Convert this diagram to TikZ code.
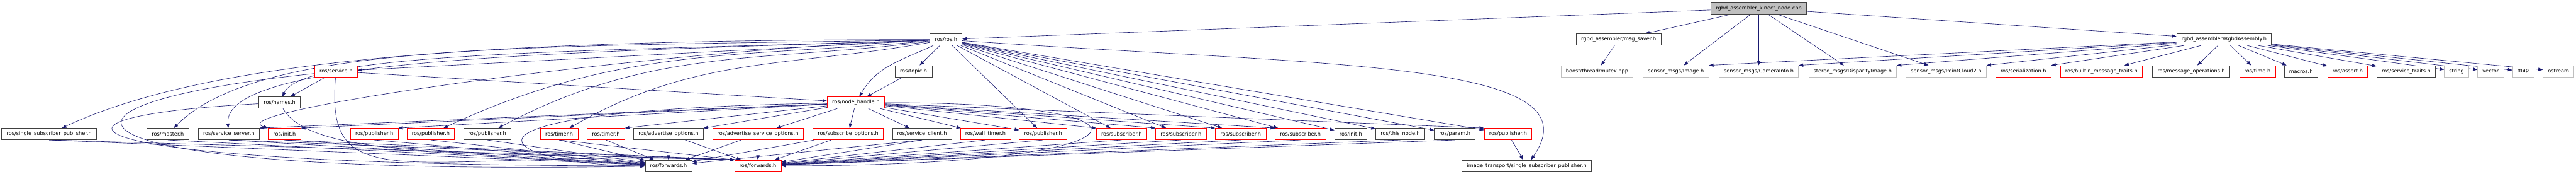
\documentclass[tikz,border=0pt]{standalone}
\usepackage{fontspec}
\setmainfont{DejaVu Sans}
\usetikzlibrary{arrows.meta, backgrounds}
\definecolor{cedge}{HTML}{191970}
\definecolor{cdark}{HTML}{404040}
\definecolor{cred}{HTML}{FF0000}
\definecolor{clight}{HTML}{BFBFBF}
\tikzset{
  every picture/.style={font=\fontsize{1.8}{2.16}\selectfont, line width=0.17pt},
  box/.style={draw=#1, fill=white, inner xsep=0.06cm, inner ysep=0pt, minimum height=0.14cm},
  box/.default=cdark,
  mainbox/.style={box=cdark, fill=clight},
  inc/.style={-{Triangle[length=0.055cm, width=0.04cm]}, draw=cedge, line width=0.14pt},
}

\begin{document}
\begin{tikzpicture}[x=0.5cm, y=0.5cm]
  \useasboundingbox (0,0) rectangle (63.39,-4.27);
  \node[mainbox] (kinect) at (43.28,-0.20) {rgbd\_assembler\_kinect\_node.cpp};
  \node[box] (ros)      at (23.28,-0.97) {ros/ros.h};
  \node[box] (saver)    at (39.83,-0.97) {rgbd\_assembler/msg\_saver.h};
  \node[box] (assembly) at (54.73,-0.97) {rgbd\_assembler/RgbdAssembly.h};
  \node[box=cred]   (service)    at (8.27,-1.75)  {ros/service.h};
  \node[box]        (topic)      at (22.48,-1.75) {ros/topic.h};
  \node[box=clight] (mutex)      at (39.30,-1.75) {boost/thread/mutex.hpp};
  \node[box=clight] (image)      at (41.24,-1.75) {sensor\_msgs/Image.h};
  \node[box=clight] (caminfo)    at (43.28,-1.75) {sensor\_msgs/CameraInfo.h};
  \node[box=clight] (disparity)  at (45.59,-1.75) {stereo\_msgs/DisparityImage.h};
  \node[box=clight] (cloud)      at (47.89,-1.75) {sensor\_msgs/PointCloud2.h};
  \node[box=cred]   (serial)     at (49.79,-1.75) {ros/serialization.h};
  \node[box=cred]   (builtin)    at (51.71,-1.75) {ros/builtin\_message\_traits.h};
  \node[box]        (msgops)     at (53.92,-1.75) {ros/message\_operations.h};
  \node[box=cred]   (rtime)      at (55.55,-1.75) {ros/time.h};
  \node[box]        (macros)     at (56.62,-1.75) {macros.h};
  \node[box=cred]   (rassert)    at (57.77,-1.75) {ros/assert.h};
  \node[box]        (srvtraits)  at (59.21,-1.75) {ros/service\_traits.h};
  \node[box=clight] (stdstring)  at (60.45,-1.75) {string};
  \node[box=clight] (stdvector)  at (61.29,-1.75) {vector};
  \node[box=clight] (stdmap)     at (62.09,-1.75) {map};
  \node[box=clight] (stdostream) at (62.96,-1.75) {ostream};
  \node[box]      (names)      at (6.88,-2.52)  {ros/names.h};
  \node[box=cred] (nodehandle) at (21.06,-2.52) {ros/node\_handle.h};
  \node[box]      (ssp)        at (1.21,-3.29)  {ros/single\_subscriber\_publisher.h};
  \node[box]      (master)     at (4.13,-3.29)  {ros/master.h};
  \node[box]      (srvserver)  at (5.63,-3.29)  {ros/service\_server.h};
  \node[box=cred] (initA)      at (7.00,-3.29)  {ros/init.h};
  \node[box=cred] (pubA)       at (9.21,-3.29)  {ros/publisher.h};
  \node[box=cred] (pubB)       at (10.60,-3.29) {ros/publisher.h};
  \node[box]      (pubC)       at (11.99,-3.29) {ros/publisher.h};
  \node[box=cred] (timerA)     at (13.76,-3.29) {ros/timer.h};
  \node[box=cred] (timerB)     at (14.91,-3.29) {ros/timer.h};
  \node[box]      (advopts)    at (16.45,-3.29) {ros/advertise\_options.h};
  \node[box=cred] (advsrvopts) at (18.65,-3.29) {ros/advertise\_service\_options.h};
  \node[box=cred] (subopts)    at (20.87,-3.29) {ros/subscribe\_options.h};
  \node[box]      (srvclient)  at (22.69,-3.29) {ros/service\_client.h};
  \node[box=cred] (walltimer)  at (24.25,-3.29) {ros/wall\_timer.h};
  \node[box=cred] (pubD)       at (25.67,-3.29) {ros/publisher.h};
  \node[box=cred] (subA)       at (27.60,-3.29) {ros/subscriber.h};
  \node[box=cred] (subB)       at (29.06,-3.29) {ros/subscriber.h};
  \node[box=cred] (subC)       at (30.53,-3.29) {ros/subscriber.h};
  \node[box=cred] (subD)       at (32.00,-3.29) {ros/subscriber.h};
  \node[box]      (initB)      at (33.24,-3.29) {ros/init.h};
  \node[box]      (thisnode)   at (34.46,-3.29) {ros/this\_node.h};
  \node[box]      (param)      at (35.80,-3.29) {ros/param.h};
  \node[box=cred] (pubE)       at (37.11,-3.29) {ros/publisher.h};
  \node[box]      (fwdA)  at (16.45,-4.07) {ros/forwards.h};
  \node[box=cred] (fwdB)  at (18.65,-4.07) {ros/forwards.h};
  \node[box]      (itssp) at (37.57,-4.07) {image\_transport/single\_subscriber\_publisher.h};
  \begin{scope}[on background layer]
  \foreach \t in {ros, saver, image, caminfo, disparity, cloud, assembly} \draw[inc] (kinect) -- (\t);
  \draw[inc] (saver) -- (mutex);
  \foreach \t in {image, caminfo, disparity, cloud, serial} \draw[inc] (assembly) -- (\t.north east);
  \foreach \t in {builtin, msgops, rtime, macros, rassert, srvtraits, stdstring, stdvector, stdmap, stdostream} \draw[inc] (assembly) -- (\t);
  \foreach \t in {topic, service, pubD, subA, subB, subC, subD, initB, thisnode, param, pubE} \draw[inc] (ros) -- (\t);
  \draw[inc] (ros) to[out=205, in=60] (nodehandle);
  \draw[inc] (ros) to[out=-4, in=55, out distance=4.475cm, in distance=1.5cm] (itssp);
  \draw[inc] (ros) to[out=180, in=25, out distance=5.5cm, in distance=2cm] (ssp);
  \draw[inc] (ros) to[out=181, in=45, out distance=5cm, in distance=1.5cm] (master);
  \draw[inc] (ros) to[out=182, in=95, out distance=4.5cm, in distance=0.875cm] (srvserver);
  \draw[inc] (ros) to[out=182, in=163, out distance=3.5cm, in distance=0.7cm] (initA.north west);
  \draw[inc] (ros) to[out=182, in=65, out distance=4cm, in distance=0.625cm] (names);
  \draw[inc] (ros) to[out=185, in=25] (pubB);
  \draw[inc] (ros) to[out=187, in=28] (pubC);
  \draw[inc] (ros) to[out=190, in=30] (timerA);
  \draw[inc] (topic) -- (nodehandle);
  \draw[inc] (service) -- (names);
  \draw[inc] (service) -- (nodehandle);
  \foreach \t in {advopts, advsrvopts, subopts, srvclient, walltimer, pubD} \draw[inc] (nodehandle) -- (\t);
  \foreach \t in {subA, subB, subC, subD, pubE} \draw[inc] (nodehandle) -- (\t.north west);
  \foreach \t in {srvserver, initA, pubA, timerB} \draw[inc] (nodehandle) -- (\t.north east);
  \foreach \s in {ssp, master, srvserver, initA, pubA, pubB, pubC, timerA, timerB, srvclient} \draw[inc] (\s.south) -- (fwdA);
  \foreach \s in {advopts, advsrvopts, subopts} { \draw[inc] (\s) -- (fwdA); \draw[inc] (\s) -- (fwdB); }
  \foreach \s in {ssp, srvserver, initA, timerA} \draw[inc] (\s.south) -- (fwdB.north west);
  \foreach \s in {srvclient, walltimer, pubD, subA, subB, subC, subD, thisnode, param} \draw[inc] (\s.south) -- (fwdB);
  \draw[inc] (names) to[out=183, in=180, out distance=3.175cm, in distance=7.25cm] (fwdA);
  \draw[inc] (service) to[out=186, in=181, out distance=4cm, in distance=7.25cm] (fwdA);
  \draw[inc] (names) to[out=-60, in=178, out distance=0.75cm, in distance=3cm] (fwdB.north west);
  \draw[inc] (service) to[out=-95, in=178, out distance=1.55cm, in distance=4cm] (fwdB.north west);
  \draw[inc] (nodehandle) to[out=181, in=180, out distance=5.25cm, in distance=1.725cm] (fwdA);
  \draw[inc] (nodehandle) to[out=0, in=0, out distance=3.75cm, in distance=4.625cm] (fwdB);
  \draw[inc] (pubE) -- (itssp);
  \end{scope}
\end{tikzpicture}
\end{document}
